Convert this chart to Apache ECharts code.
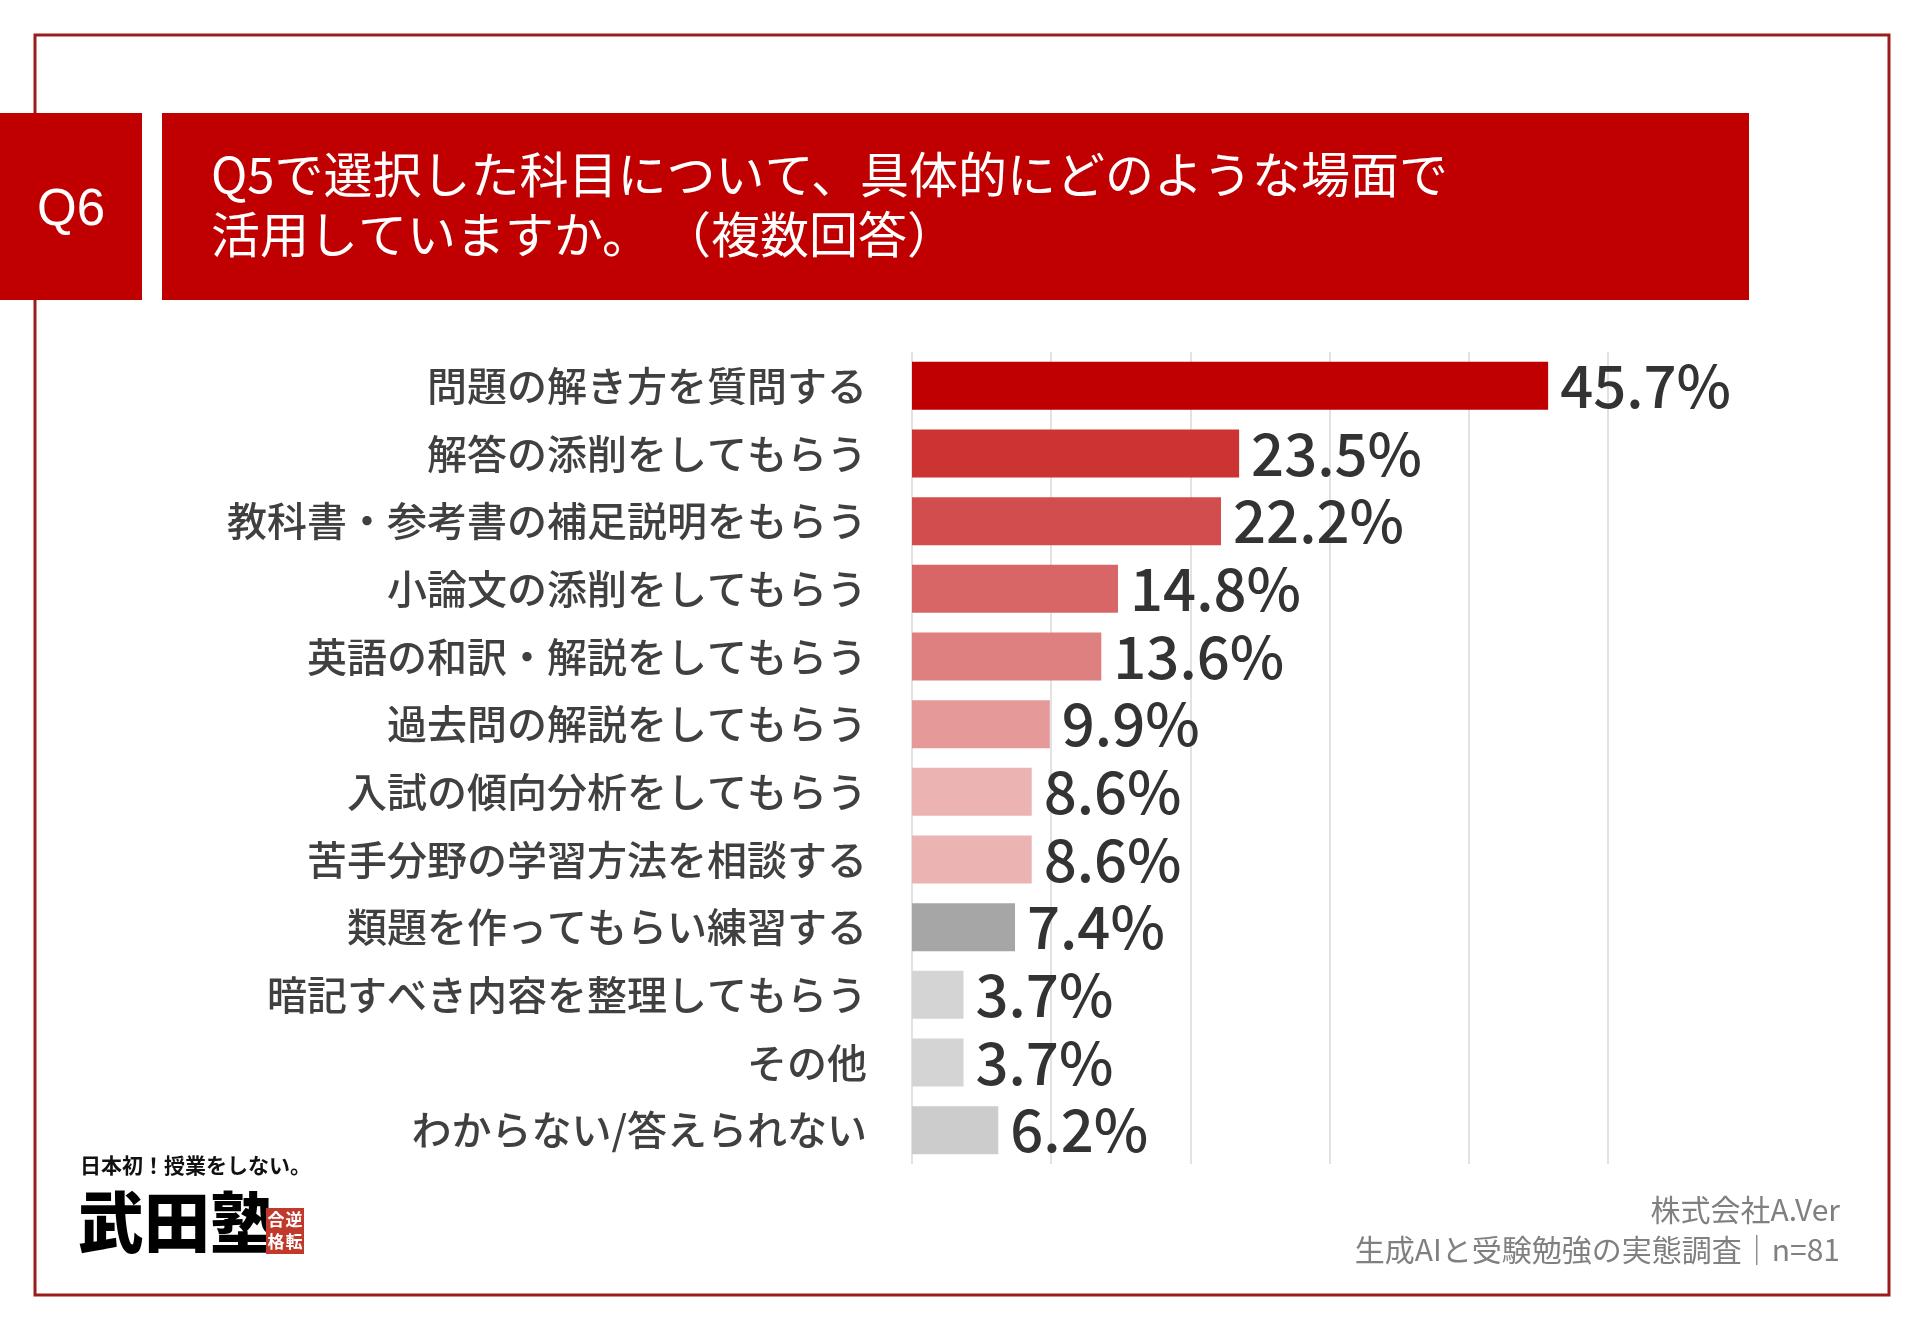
<!DOCTYPE html>
<html>
<head>
<meta charset="utf-8">
<script src="https://cdn.jsdelivr.net/npm/echarts@6/dist/echarts.min.js"></script>
<style>
html,body{margin:0;padding:0;background:#fff;}
#chart{width:1920px;height:1329px;}
</style>
</head>
<body>
<div id="chart"></div>
<script>
var categories = [
  '問題の解き方を質問する',
  '解答の添削をしてもらう',
  '教科書・参考書の補足説明をもらう',
  '小論文の添削をしてもらう',
  '英語の和訳・解説をしてもらう',
  '過去問の解説をしてもらう',
  '入試の傾向分析をしてもらう',
  '苦手分野の学習方法を相談する',
  '類題を作ってもらい練習する',
  '暗記すべき内容を整理してもらう',
  'その他',
  'わからない/答えられない'
];
var values = [45.7, 23.5, 22.2, 14.8, 13.6, 9.9, 8.6, 8.6, 7.4, 3.7, 3.7, 6.2];
var barColors = ['#C00000', '#CC3333', '#D24D4D', '#D96666', '#DF8080', '#E59999',
  '#ECB3B3', '#ECB3B3', '#A6A6A6', '#D4D4D4', '#D4D4D4', '#CCCCCC'];
var titleLines = ['Q5で選択した科目について、具体的にどのような場面で', '活用していますか。 （複数回答）'];
var questionNo = 'Q6';
var footerLines = ['株式会社A.Ver', '生成AIと受験勉強の実態調査｜n=81'];

var CJK = '"Noto Sans CJK JP", "Noto Sans", sans-serif';
var chart = echarts.init(document.getElementById('chart'));
var option = {
  backgroundColor: '#ffffff',
  animation: false,
  grid: { left: 912, top: 352, width: 696, height: 812, containLabel: false },
  xAxis: {
    type: 'value', min: 0, max: 50, interval: 10,
    axisLabel: { show: false }, axisLine: { show: false }, axisTick: { show: false },
    splitLine: { show: true, lineStyle: { color: '#D9D9D9', width: 1.5 } }
  },
  yAxis: {
    type: 'category', data: categories, inverse: true,
    axisLine: { show: false }, axisTick: { show: false },
    axisLabel: { margin: 45, fontSize: 40, fontWeight: 500, color: '#404040', fontFamily: CJK }
  },
  series: [{
    type: 'bar',
    barWidth: 48,
    data: values.map(function (v, i) { return { value: v, itemStyle: { color: barColors[i] } }; }),
    label: {
      show: true, position: 'right', distance: 12,
      fontSize: 58, fontWeight: 500, color: '#333333', fontFamily: CJK,
      formatter: function (p) { return p.value.toFixed(1) + '%'; }
    }
  }],
  graphic: [
    { type: 'rect', shape: { x: 35, y: 35, width: 1854, height: 1260 },
      style: { fill: 'none', stroke: '#9B1C1C', lineWidth: 3 }, z: 0 },
    { type: 'rect', shape: { x: 0, y: 113, width: 142, height: 187 }, style: { fill: '#C00000' }, z: 1 },
    { type: 'rect', shape: { x: 162, y: 113, width: 1587, height: 187 }, style: { fill: '#C00000' }, z: 1 },
    { type: 'text', x: 71, y: 211, z: 2,
      style: { text: questionNo, fill: '#ffffff', font: '51px "Liberation Sans", Arial, sans-serif', textAlign: 'center', textVerticalAlign: 'middle' } },
    { type: 'text', x: 211, y: 174, z: 2,
      style: { text: titleLines[0], fill: '#ffffff', font: '49px ' + CJK, textAlign: 'left', textVerticalAlign: 'middle' } },
    { type: 'text', x: 211, y: 234, z: 2,
      style: { text: titleLines[1], fill: '#ffffff', font: '49px ' + CJK, textAlign: 'left', textVerticalAlign: 'middle' } },
    { type: 'text', x: 1840, y: 1210, z: 2,
      style: { text: footerLines[0], fill: '#808080', font: '30px ' + CJK, textAlign: 'right', textVerticalAlign: 'middle' } },
    { type: 'text', x: 1840, y: 1250, z: 2,
      style: { text: footerLines[1], fill: '#808080', font: '30px ' + CJK, textAlign: 'right', textVerticalAlign: 'middle' } },
    { type: 'text', x: 80, y: 1165, z: 2,
      style: { text: '日本初！授業をしない。', fill: '#111111', font: 'bold 21px ' + CJK, textAlign: 'left', textVerticalAlign: 'middle' } },
    { type: 'text', x: 78, y: 1222, z: 2,
      style: { text: '武田塾', fill: '#000000', font: '900 66px ' + CJK, textAlign: 'left', textVerticalAlign: 'middle' } },
    { type: 'rect', shape: { x: 266, y: 1208, width: 38, height: 46 }, style: { fill: '#C0392B' }, z: 2 },
    { type: 'text', x: 294, y: 1220, z: 3,
      style: { text: '逆', fill: '#ffffff', font: 'bold 17px ' + CJK, textAlign: 'center', textVerticalAlign: 'middle' } },
    { type: 'text', x: 294, y: 1242, z: 3,
      style: { text: '転', fill: '#ffffff', font: 'bold 17px ' + CJK, textAlign: 'center', textVerticalAlign: 'middle' } },
    { type: 'text', x: 276, y: 1220, z: 3,
      style: { text: '合', fill: '#ffffff', font: 'bold 17px ' + CJK, textAlign: 'center', textVerticalAlign: 'middle' } },
    { type: 'text', x: 276, y: 1242, z: 3,
      style: { text: '格', fill: '#ffffff', font: 'bold 17px ' + CJK, textAlign: 'center', textVerticalAlign: 'middle' } }
  ]
};
chart.setOption(option);
</script>
</body>
</html>
